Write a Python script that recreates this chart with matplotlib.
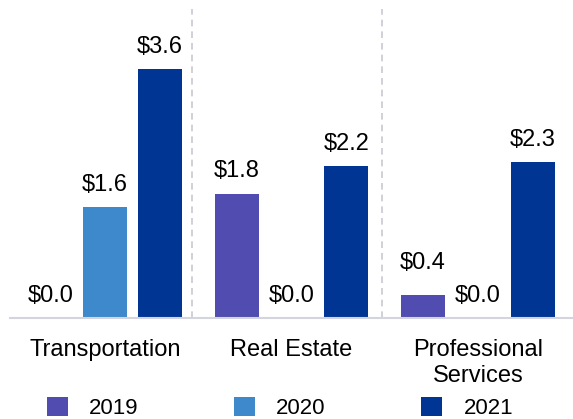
import numpy as np
import matplotlib.pyplot as plt

plt.rcParams['font.family'] = ['Liberation Sans', 'DejaVu Sans']

categories = ['Transportation', 'Real Estate', 'Professional\nServices']
years = ['2019', '2020', '2021']
values = {
    '2019': [0.0, 1.8, 0.33],
    '2020': [1.6, 0.0, 0.0],
    '2021': [3.6, 2.2, 2.25],
}
labels = {
    '2019': ['$0.0', '$1.8', '$0.4'],
    '2020': ['$1.6', '$0.0', '$0.0'],
    '2021': ['$3.6', '$2.2', '$2.3'],
}
colors = {'2019': '#504CB0', '2020': '#3D89CC', '2021': '#003594'}

fig = plt.figure(figsize=(5.73, 4.19), dpi=100)
ax = fig.add_axes([10 / 573, 101 / 419, 563 / 573, 309 / 419])

x = np.arange(len(categories))
width = 0.235
step = 0.294

for i, yr in enumerate(years):
    pos = x + (i - 1) * step
    bars = ax.bar(pos, values[yr], width, color=colors[yr], label=yr)
    for b, txt in zip(bars, labels[yr]):
        # la etiqueta de $0.4 va un poco mas arriba para no chocar con $0.0
        extra = 7 if txt == '$0.4' else 0
        ax.annotate(txt, (b.get_x() + b.get_width() / 2, b.get_height()),
                    xytext=(0, 8 + extra), textcoords='offset points',
                    ha='center', va='bottom', fontsize=17)

# separadores entre grupos
for sx in [0.465, 1.485]:
    ax.axvline(sx, color='#C8C8D2', linestyle=(0, (4, 3)), linewidth=1.2)

ax.set_xlim(-0.51, 2.51)
ax.set_ylim(0, 4.47)
ax.set_xticks(x)
ax.set_xticklabels(categories, fontsize=17, linespacing=1.25)
ax.tick_params(axis='x', length=0, pad=15)
ax.set_yticks([])
for s in ['top', 'right', 'left']:
    ax.spines[s].set_visible(False)
ax.spines['bottom'].set_color('#D4D4DC')
ax.spines['bottom'].set_linewidth(1.5)

fig.legend(loc='center', bbox_to_anchor=(280 / 573, 11 / 419), ncol=3,
           frameon=False, fontsize=16, handlelength=0.95, handleheight=0.95,
           handletextpad=0.95, columnspacing=4.3, borderpad=0.1)

fig.savefig('out.png', dpi=100)
